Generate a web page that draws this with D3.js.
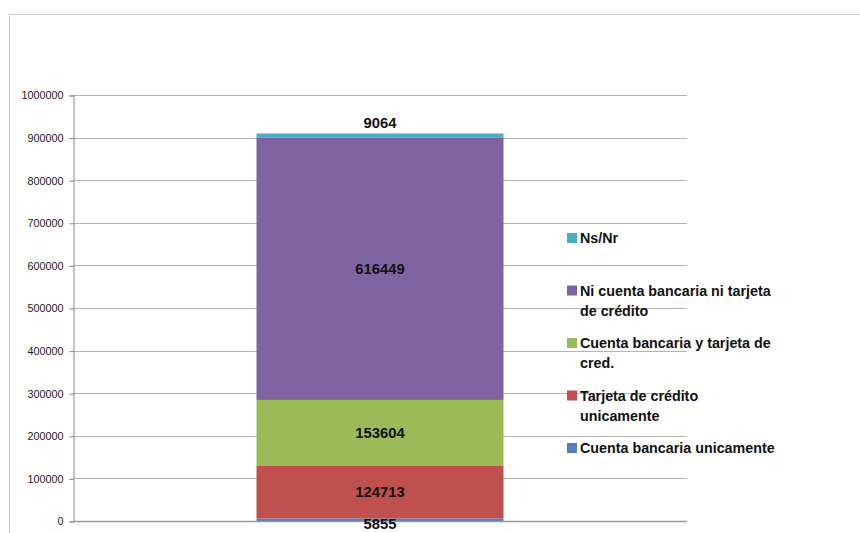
<!DOCTYPE html>
<html>
<head>
<meta charset="utf-8">
<script src="https://cdn.jsdelivr.net/npm/d3@7"></script>
<style>
  html, body { margin: 0; padding: 0; background: #fff; }
  svg { display: block; }
</style>
</head>
<body>
<svg id="chart" width="860" height="533"></svg>
<script>
// Series, bottom to top of the stack
const seriesNames = [
  "Cuenta bancaria unicamente",
  "Tarjeta de crédito\nunicamente",
  "Cuenta bancaria y tarjeta de\ncred.",
  "Ni cuenta bancaria ni tarjeta\nde crédito",
  "Ns/Nr"
];
const seriesValues = [5855, 124713, 153604, 616449, 9064];
const seriesColors = ["#4F81BD", "#C0504D", "#9BBB59", "#8064A2", "#4BACC6"];
const categories = ["Total"];
const yTicks = [0, 100000, 200000, 300000, 400000, 500000, 600000, 700000, 800000, 900000, 1000000];

const svg = d3.select("#chart");
const W = 860, H = 533;
const plot = { left: 73, right: 687, top: 95, bottom: 521 };

// Outer chart frame
svg.append("rect")
  .attr("x", 9.5).attr("y", 14.5)
  .attr("width", W + 20).attr("height", H + 20)
  .attr("fill", "#fff").attr("stroke", "#c8c8c8").attr("stroke-width", 1);

const y = d3.scaleLinear().domain([0, 1000000]).range([plot.bottom, plot.top]);
const x = d3.scaleBand().domain(categories).range([plot.left, plot.right])
  .paddingInner(0).paddingOuter(0.743);

// Gridlines
svg.append("g")
  .selectAll("line")
  .data(yTicks.filter(t => t > 0))
  .join("line")
  .attr("x1", plot.left).attr("x2", plot.right)
  .attr("y1", d => Math.round(y(d)) + 0.5).attr("y2", d => Math.round(y(d)) + 0.5)
  .attr("stroke", "#b4b4b4").attr("stroke-width", 1);

// Y axis
const yAxis = d3.axisLeft(y).tickValues(yTicks).tickSize(4).tickPadding(6).tickFormat(d3.format("d"));
const gy = svg.append("g").attr("transform", `translate(${plot.left + 0.5},0.5)`).call(yAxis);
gy.select(".domain").attr("stroke", "#868686");
gy.selectAll(".tick line").attr("stroke", "#868686");
gy.selectAll(".tick text")
  .attr("font-family", "'Liberation Sans', Arial, sans-serif")
  .attr("font-size", 10.8).attr("fill", "#222");

// Stacked bar
const row = { cat: categories[0] };
seriesValues.forEach((v, i) => row["s" + i] = v);
const keys = seriesValues.map((v, i) => "s" + i);
const stacked = d3.stack().keys(keys)([row]);

const barX = x(categories[0]);
const barW = x.bandwidth();

svg.append("g")
  .selectAll("rect")
  .data(stacked)
  .join("rect")
  .attr("x", barX).attr("width", barW)
  .attr("y", d => y(d[0][1]))
  .attr("height", d => y(d[0][0]) - y(d[0][1]))
  .attr("fill", (d, i) => seriesColors[i]);

// X axis baseline
svg.append("line")
  .attr("x1", plot.left).attr("x2", plot.right)
  .attr("y1", y(0) + 0.5).attr("y2", y(0) + 0.5)
  .attr("stroke", "#9a9a9a").attr("stroke-width", 1.5);

// Data labels
const labelFont = "'Liberation Sans', Arial, sans-serif";
svg.append("g")
  .selectAll("text")
  .data(stacked)
  .join("text")
  .attr("x", barX + barW / 2)
  .attr("y", (d, i) => {
    const top = y(d[0][1]), bot = y(d[0][0]);
    const h = bot - top;
    if (h < 10 && i === stacked.length - 1) return top - 11;
    if (h < 10) return (top + bot) / 2 + 4;
    return (top + bot) / 2;
  })
  .attr("dy", "0.36em")
  .attr("text-anchor", "middle")
  .attr("font-family", labelFont)
  .attr("font-weight", "bold")
  .attr("font-size", 14.8)
  .attr("fill", "#111")
  .text((d, i) => seriesValues[i]);

// Legend (top entry is the last series)
const legendOrder = d3.range(seriesNames.length).reverse();
const ly = d3.scalePoint().domain(legendOrder).range([238, 448]);
const legend = svg.append("g");
const items = legend.selectAll("g")
  .data(legendOrder)
  .join("g")
  .attr("transform", i => `translate(567,${ly(i)})`);
items.append("rect")
  .attr("x", 0).attr("y", -5).attr("width", 10).attr("height", 10)
  .attr("fill", i => seriesColors[i]);
items.append("text")
  .attr("font-family", labelFont)
  .attr("font-weight", "bold")
  .attr("font-size", 14.3)
  .attr("fill", "#111")
  .selectAll("tspan")
  .data(i => seriesNames[i].split("\n"))
  .join("tspan")
  .attr("x", 13)
  .attr("y", (d, k) => k * 20)
  .attr("dy", "0.36em")
  .text(d => d);
</script>
</body>
</html>
